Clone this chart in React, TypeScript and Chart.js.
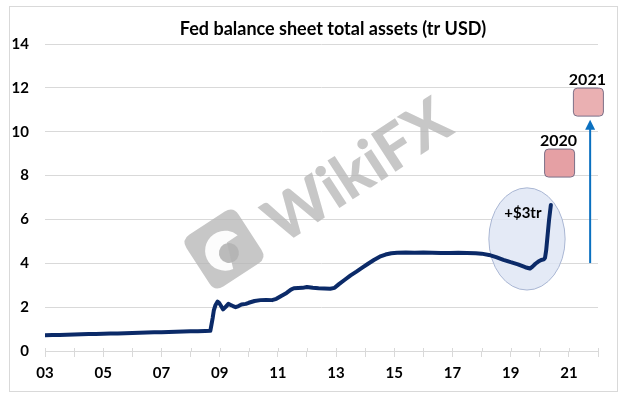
import React, { useEffect, useRef } from "react";
import { Chart, registerables } from "chart.js";

Chart.register(...registerables);

// ---- data (decimal year, trillions USD) ----
const dates: number[] = [
  2003.0, 2003.25, 2003.5, 2003.75, 2004.0, 2004.25, 2004.5, 2004.75,
  2005.0, 2005.25, 2005.5, 2005.75, 2006.0, 2006.25, 2006.5, 2006.75,
  2007.0, 2007.25, 2007.5, 2007.75, 2008.0, 2008.25, 2008.5, 2008.68,
  2008.72, 2008.76, 2008.8, 2008.86, 2008.93, 2008.98, 2009.05, 2009.12,
  2009.2, 2009.3, 2009.38, 2009.46, 2009.55, 2009.65, 2009.75, 2009.9,
  2010.0, 2010.2, 2010.4, 2010.6, 2010.8, 2010.95, 2011.1, 2011.3,
  2011.45, 2011.55, 2011.7, 2011.85, 2012.0, 2012.2, 2012.4, 2012.6,
  2012.8, 2012.95, 2013.1, 2013.3, 2013.5, 2013.7, 2013.9, 2014.1,
  2014.3, 2014.5, 2014.7, 2014.9, 2015.1, 2015.4, 2015.7, 2016.0,
  2016.3, 2016.6, 2016.9, 2017.2, 2017.5, 2017.8, 2018.0, 2018.25,
  2018.5, 2018.75, 2019.0, 2019.25, 2019.5, 2019.66, 2019.75, 2019.85,
  2019.95, 2020.05, 2020.14, 2020.18, 2020.22, 2020.27, 2020.32, 2020.38,
];
const totalAssets: number[] = [
  0.72, 0.73, 0.73, 0.74, 0.75, 0.76, 0.77, 0.78,
  0.79, 0.8, 0.8, 0.81, 0.82, 0.83, 0.84, 0.85,
  0.86, 0.87, 0.88, 0.89, 0.9, 0.9, 0.91, 0.92,
  1.2, 1.5, 1.85, 2.1, 2.25, 2.2, 2.05, 1.9,
  2.0, 2.15, 2.1, 2.05, 2.0, 2.05, 2.12, 2.15,
  2.2, 2.28, 2.32, 2.33, 2.32, 2.38, 2.5, 2.65,
  2.8, 2.86, 2.87, 2.88, 2.92, 2.88, 2.86, 2.85,
  2.84, 2.88, 3.05, 3.25, 3.45, 3.62, 3.8, 3.98,
  4.15, 4.3, 4.4, 4.46, 4.48, 4.49, 4.48, 4.49,
  4.48, 4.47, 4.47, 4.48, 4.47, 4.46, 4.44, 4.38,
  4.28, 4.16, 4.05, 3.95, 3.82, 3.76, 3.85, 3.98,
  4.08, 4.15, 4.18, 4.25, 4.6, 5.3, 6.0, 6.66,
];

const xMin = 2003;
const xMax = 2022;
const yMin = 0;
const yMax = 14;
const yStep = 2;

const titleText = "Fed balance sheet total assets (tr USD)";
const bubbleLabel = "+$3tr";
const boxLabels = ["2020", "2021"];
// projected levels (tr USD) for the boxes, in data units
const boxCenters = [
  { x: 2020.68, y: 8.57 },
  { x: 2021.67, y: 11.35 },
];
const bubble = { x: 2019.56, y: 5.11, rx: 1.31, ry: 2.33 };
const arrow = { x: 2021.73, from: 4.01, to: 10.55 };

const NAVY = "#0b2a68";
const FONT = "Lato, 'Open Sans', sans-serif";

export default function App() {
  const canvasRef = useRef<HTMLCanvasElement | null>(null);

  useEffect(() => {
    if (!canvasRef.current) return;

    const behind = {
      id: "behind",
      beforeDatasetsDraw(chart: any) {
        const ctx = chart.ctx;
        const xs = chart.scales.x;
        const ys = chart.scales.y;
        // watermark
        ctx.save();
        ctx.fillStyle = "rgba(180,180,180,0.75)";
        ctx.translate(358, 172);
        ctx.rotate((-33 * Math.PI) / 180);
        ctx.font = `900 62px ${FONT}`;
        ctx.textAlign = "center";
        ctx.textBaseline = "middle";
        ctx.fillText("WikiFX", 0, 0);
        ctx.restore();
        ctx.save();
        ctx.translate(224, 249);
        ctx.rotate((-33 * Math.PI) / 180);
        ctx.fillStyle = "rgba(180,180,180,0.75)";
        const s = 31;
        const r = 10;
        ctx.beginPath();
        ctx.moveTo(-s + r, -s);
        ctx.lineTo(s - r, -s);
        ctx.quadraticCurveTo(s, -s, s, -s + r);
        ctx.lineTo(s, s - r);
        ctx.quadraticCurveTo(s, s, s - r, s);
        ctx.lineTo(-s + r, s);
        ctx.quadraticCurveTo(-s, s, -s, s - r);
        ctx.lineTo(-s, -s + r);
        ctx.quadraticCurveTo(-s, -s, -s + r, -s);
        ctx.closePath();
        ctx.fill();
        ctx.fillStyle = "rgba(255,255,255,0.95)";
        ctx.beginPath();
        ctx.arc(0, 2, 20, Math.PI * 0.55, Math.PI * 1.9);
        ctx.lineTo(6, -4);
        ctx.closePath();
        ctx.fill();
        ctx.fillStyle = "rgba(180,180,180,0.9)";
        ctx.beginPath();
        ctx.arc(2, 6, 10, 0, Math.PI * 2);
        ctx.fill();
        ctx.restore();
        // ellipse
        const cx = xs.getPixelForValue(bubble.x);
        const cy = ys.getPixelForValue(bubble.y);
        const rx = Math.abs(xs.getPixelForValue(bubble.x + bubble.rx) - cx);
        const ry = Math.abs(ys.getPixelForValue(bubble.y + bubble.ry) - cy);
        ctx.save();
        ctx.beginPath();
        ctx.ellipse(cx, cy, rx, ry, 0, 0, Math.PI * 2);
        ctx.fillStyle = "rgba(221,229,244,0.8)";
        ctx.fill();
        ctx.strokeStyle = "#a9b6d3";
        ctx.lineWidth = 1;
        ctx.stroke();
        ctx.restore();
      },
    };

    const front = {
      id: "front",
      afterDraw(chart: any) {
        const ctx = chart.ctx;
        const xs = chart.scales.x;
        const ys = chart.scales.y;
        const bottom = chart.chartArea.bottom;
        ctx.save();
        // upper halves of x tick marks
        ctx.strokeStyle = "#d9d9d9";
        ctx.lineWidth = 1;
        for (let v = xMin; v <= xMax; v++) {
          const px = Math.round(xs.getPixelForValue(v)) + 0.5;
          ctx.beginPath();
          ctx.moveTo(px, bottom - 3);
          ctx.lineTo(px, bottom);
          ctx.stroke();
        }
        // title
        ctx.fillStyle = "#000";
        ctx.font = `bold 18px ${FONT}`;
        ctx.textAlign = "center";
        ctx.textBaseline = "middle";
        ctx.fillText(titleText, 333, 29);
        // bubble label
        ctx.font = `bold 15px ${FONT}`;
        ctx.fillText(
          bubbleLabel,
          xs.getPixelForValue(bubble.x - 0.14),
          ys.getPixelForValue(6.29)
        );
        // boxes
        boxCenters.forEach((b, i) => {
          const bx = xs.getPixelForValue(b.x);
          const by = ys.getPixelForValue(b.y);
          const w = 30;
          const h = 28;
          const r = 4;
          const x0 = bx - w / 2;
          const y0 = by - h / 2;
          ctx.beginPath();
          ctx.moveTo(x0 + r, y0);
          ctx.lineTo(x0 + w - r, y0);
          ctx.quadraticCurveTo(x0 + w, y0, x0 + w, y0 + r);
          ctx.lineTo(x0 + w, y0 + h - r);
          ctx.quadraticCurveTo(x0 + w, y0 + h, x0 + w - r, y0 + h);
          ctx.lineTo(x0 + r, y0 + h);
          ctx.quadraticCurveTo(x0, y0 + h, x0, y0 + h - r);
          ctx.lineTo(x0, y0 + r);
          ctx.quadraticCurveTo(x0, y0, x0 + r, y0);
          ctx.closePath();
          ctx.fillStyle = i === 0 ? "#e5a0a4" : "#eab0b2";
          ctx.fill();
          ctx.strokeStyle = "#7b7088";
          ctx.lineWidth = 1;
          ctx.stroke();
          ctx.fillStyle = "#000";
          ctx.font = `bold 16px ${FONT}`;
          ctx.fillText(boxLabels[i], bx - 1, y0 - 8);
        });
        // arrow
        const ax = xs.getPixelForValue(arrow.x);
        const ay0 = ys.getPixelForValue(arrow.from);
        const ay1 = ys.getPixelForValue(arrow.to);
        ctx.strokeStyle = "#0a70c0";
        ctx.fillStyle = "#0a70c0";
        ctx.lineWidth = 2;
        ctx.beginPath();
        ctx.moveTo(ax, ay0);
        ctx.lineTo(ax, ay1 + 8);
        ctx.stroke();
        ctx.beginPath();
        ctx.moveTo(ax, ay1);
        ctx.lineTo(ax - 5, ay1 + 10);
        ctx.lineTo(ax + 5, ay1 + 10);
        ctx.closePath();
        ctx.fill();
        ctx.restore();
      },
    };

    const chart = new Chart(canvasRef.current, {
      type: "line",
      data: {
        datasets: [
          {
            label: "Total assets",
            data: dates.map((d, i) => ({ x: d, y: totalAssets[i] })),
            borderColor: NAVY,
            backgroundColor: NAVY,
            borderWidth: 4,
            pointRadius: 0,
            tension: 0,
            borderCapStyle: "round",
            borderJoinStyle: "round",
          },
        ],
      },
      options: {
        animation: false,
        responsive: false,
        maintainAspectRatio: false,
        layout: { padding: { left: 0, right: 28, top: 44, bottom: 0 } },
        plugins: {
          legend: { display: false },
          title: { display: false },
          tooltip: { enabled: false },
        },
        scales: {
          x: {
            type: "linear",
            min: xMin,
            max: xMax,
            afterFit: (s: any) => {
              s.height = 47;
            },
            afterBuildTicks: (s: any) => {
              const t = [];
              for (let v = xMin; v <= xMax; v++) t.push({ value: v });
              s.ticks = t;
            },
            ticks: {
              autoSkip: false,
              maxRotation: 0,
              padding: 7,
              color: "#000",
              font: { family: FONT, size: 15, weight: "bold" },
              callback: (v: any) =>
                Number(v) % 2 === 1 && Number(v) < xMax
                  ? String(Number(v) % 100).padStart(2, "0")
                  : "",
            },
            grid: {
              drawOnChartArea: false,
              drawTicks: true,
              tickLength: 6,
              color: "#d9d9d9",
            },
            border: { display: true, color: "#d9d9d9" },
          },
          y: {
            min: yMin,
            max: yMax,
            afterFit: (s: any) => {
              s.width = 45;
            },
            ticks: {
              stepSize: yStep,
              padding: 16,
              color: "#000",
              font: { family: FONT, size: 15, weight: "bold" },
            },
            grid: { color: "#d9d9d9", drawTicks: false },
            border: { display: false },
          },
        },
      },
      plugins: [behind, front],
    } as any);

    return () => chart.destroy();
  }, []);

  return (
    <div style={{ position: "absolute", left: 0, top: 0, width: 626, height: 398, background: "#fff" }}>
      <div
        style={{
          position: "absolute",
          left: 9,
          top: 6,
          width: 607,
          height: 384,
          border: "1px solid #d9d9d9",
        }}
      />
      <canvas
        ref={canvasRef}
        width={626}
        height={398}
        style={{ position: "absolute", left: 0, top: 0, width: 626, height: 398 }}
      />
    </div>
  );
}
